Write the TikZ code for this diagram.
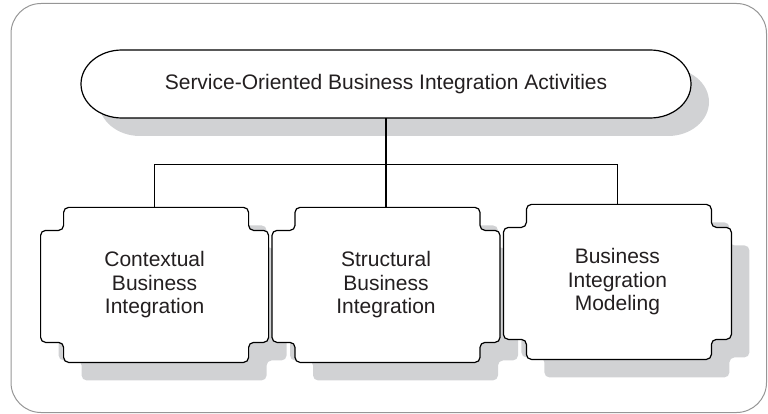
\documentclass[tikz,border=0pt]{standalone}
\usepackage{fontspec}
\setmainfont{Liberation Sans}
\usetikzlibrary{positioning}
\definecolor{shadowgray}{RGB}{209,210,212}
\definecolor{framegray}{RGB}{150,150,150}
\definecolor{ink}{RGB}{35,31,32}
\pgfdeclarelayer{shadow}
\pgfdeclarelayer{shape}
\pgfsetlayers{shadow,shape,main}

% outline of the notched boxes, around the node centre
\def\notchshape{[rounded corners=5pt] (-91,77.5) -- (94,77.5) -- (94,54.5) -- (114,54.5) -- (114,-57.5) -- (94,-57.5) -- (94,-77.5) -- (-91,-77.5) -- (-91,-57.5) -- (-114,-57.5) -- (-114,54.5) -- (-91,54.5) -- cycle}
\def\pillshape{(-264,34) -- (264,34) arc[start angle=90, end angle=-90, x radius=41, y radius=34] -- (-264,-34) arc[start angle=270, end angle=90, x radius=41, y radius=34] -- cycle}

\newcommand{\drawshape}[2]{%
  \begin{pgfonlayer}{shadow}
    \fill[shadowgray, shift={(#1.center)}, xshift=18pt, yshift=-18pt] #2;
  \end{pgfonlayer}
  \begin{pgfonlayer}{shape}
    \filldraw[outline, shift={(#1.center)}] #2;
  \end{pgfonlayer}}

\begin{document}
\begin{tikzpicture}[
    x=1pt, y=1pt,
    pill/.style={minimum width=610pt, minimum height=68pt, inner sep=0pt, text=ink},
    notchbox/.style={minimum width=228pt, minimum height=155pt, inner sep=0pt, align=center, text=ink},
    outline/.style={draw=black, fill=white, line width=1.2pt},
    link/.style={draw=black, line width=1.2pt},
    node distance=3pt,
    every node/.append style={font=\fontsize{21}{23.5}\selectfont}
]
    \useasboundingbox (0,0) rectangle (768,-414);
    \begin{pgfonlayer}{shadow}
        \draw[framegray, line width=1pt, rounded corners=30pt] (11,-3.5) rectangle (766.5,-412.5);
    \end{pgfonlayer}

    \node[pill] (top) at (386,-84) {Service-Oriented Business Integration Activities};
    \node[notchbox, below=89pt of top] (str) {Structural\\Business\\Integration};
    \node[notchbox, left=of str] (ctx) {Contextual\\Business\\Integration};
    \node[notchbox, right=of str, yshift=3pt] (mod) {Business\\Integration\\Modeling};
    \coordinate[below=46pt of top] (bar);

    \drawshape{top}{\pillshape}
    \drawshape{ctx}{\notchshape}
    \drawshape{str}{\notchshape}
    \drawshape{mod}{\notchshape}

    \draw[link] (top.south) -- (str.north);
    \draw[link] (ctx.north) |- (bar) -| (mod.north);
\end{tikzpicture}
\end{document}
